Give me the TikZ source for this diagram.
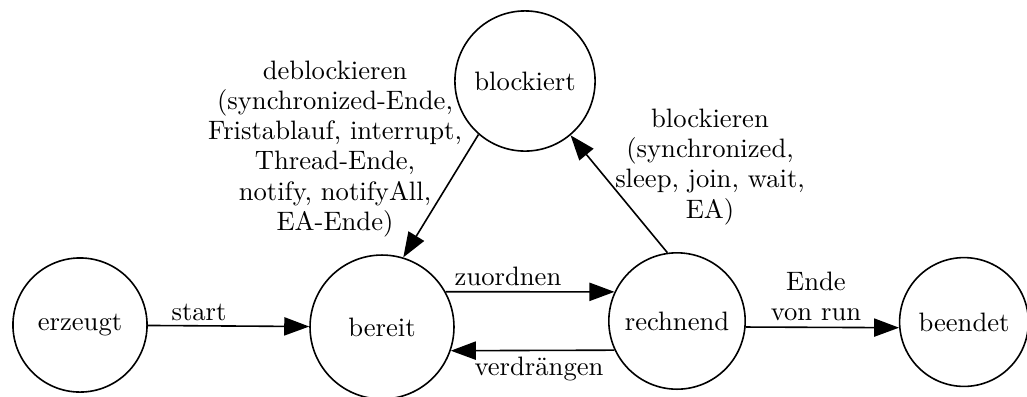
\documentclass[tikz,border=0pt]{standalone}
\usepackage{tikz}
\usetikzlibrary{arrows.meta}

\tikzset{
  zustand/.style={draw, circle, line width=0.6pt, inner sep=0pt},
  pfeil/.style={-{Triangle[length=0.33cm,width=0.24cm]}, line width=0.6pt},
  beschr/.style={align=center, inner sep=0pt}
}

\begin{document}
\begin{tikzpicture}[x=0.0132cm, y=-0.0132cm, font=\fontsize{10}{11.3}\selectfont]
        \useasboundingbox (0,0) rectangle (1027,396);

        \node[zustand, minimum size=1.77cm] (erzeugt)   at (80,325)  {erzeugt};
        \node[zustand, minimum size=1.90cm] (bereit)    at (382,327) {bereit};
        \node[zustand, minimum size=1.80cm] (rechnend)  at (677,321) {rechnend};
        \node[zustand, minimum size=1.70cm] (beendet)   at (964,322) {beendet};
        \node[zustand, minimum size=1.85cm] (blockiert) at (525,81)  {blockiert};

        \draw[pfeil] (erzeugt) -- (bereit);
        \draw[pfeil] (bereit.29) -- (rechnend.155);
        \draw[pfeil] (rechnend.205) -- (bereit.-19);
        \draw[pfeil] (rechnend.-5) -- (beendet.185);
        \draw[pfeil] (blockiert.229) -- (bereit.73);
        \draw[pfeil] (rechnend.98) -- (blockiert.310);

        \node[beschr] (deblock) at (335,149) {deblockieren\\(synchronized-Ende,\\Fristablauf, interrupt,\\Thread-Ende,\\notify, notifyAll,\\EA-Ende)};
        \node[beschr] (block)   at (710,167) {blockieren\\(synchronized,\\sleep, join, wait,\\EA)};
        \node[beschr] (lstart)  at (199,312) {start};
        \node[beschr] (lzuord)  at (508,276) {zuordnen};
        \node[beschr] (lverdr)  at (539,369) {verdrängen};
        \node[beschr] (lende)   at (816,296) {Ende\\von run};
    \end{tikzpicture}
\end{document}
